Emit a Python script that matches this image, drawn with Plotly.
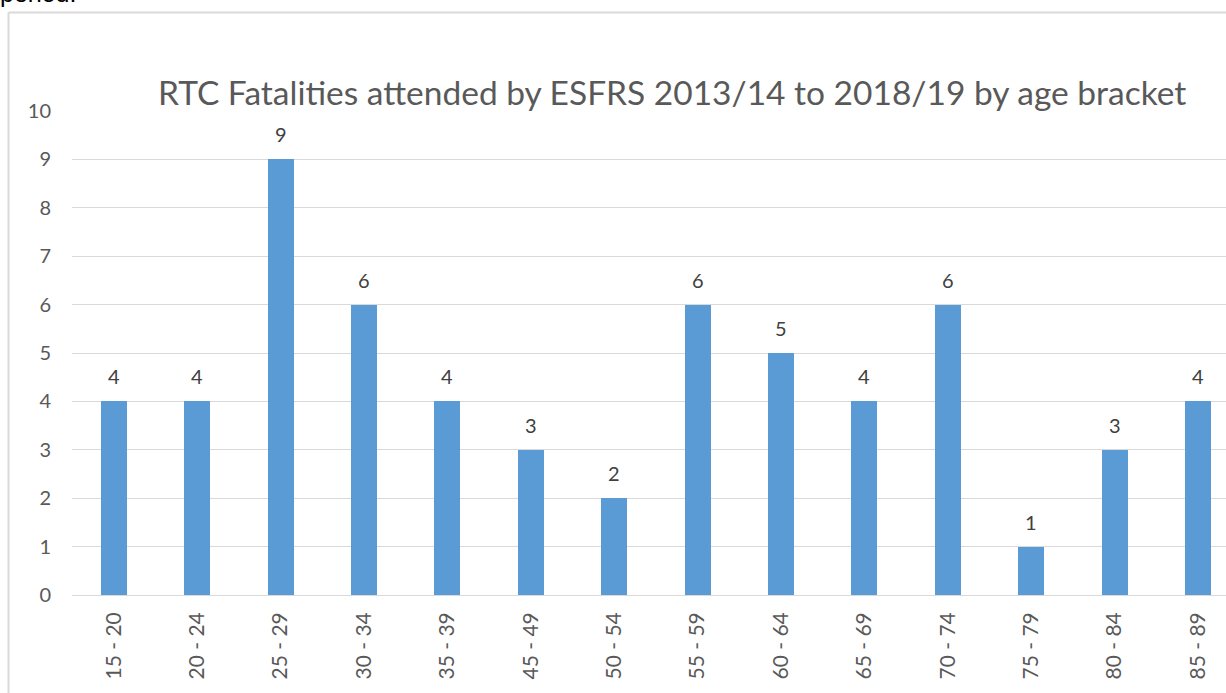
import plotly.graph_objects as go

categories = ["15 - 20", "20 - 24", "25 - 29", "30 - 34", "35 - 39", "45 - 49", "50 - 54",
              "55 - 59", "60 - 64", "65 - 69", "70 - 74", "75 - 79", "80 - 84", "85 - 89"]
fatalities = [4, 4, 9, 6, 4, 3, 2, 6, 5, 4, 6, 1, 3, 4]
y_ticks = list(range(0, 11))

W, H = 1226, 693
L, R, T, B = 72, 0, 111, 98
PW, PH = W - L - R, H - T - B


def px_x(p):
    return (p - L) / PW


def px_y(p):
    return (H - B - p) / PH


band = 83.4
fig = go.Figure()
fig.add_trace(go.Bar(
    x=list(range(len(categories))), y=fatalities,
    marker=dict(color="#5b9bd5", line=dict(width=0)),
    width=26 / band, hoverinfo="x+y",
))

annotations = []
for i, v in enumerate(fatalities):
    annotations.append(dict(x=i, y=v, xref="x", yref="y", text=str(v), showarrow=False,
                            yanchor="middle", yshift=25,
                            font=dict(family="Lato", size=20, color="#404040")))

annotations.append(dict(x=px_x(672), y=px_y(92), xref="paper", yref="paper",
                        text="RTC Fatalities attended by ESFRS 2013/14 to 2018/19 by age bracket",
                        showarrow=False, xanchor="center", yanchor="middle",
                        font=dict(family="Lato", size=33.5, color="#595959")))
annotations.append(dict(x=px_x(-2), y=px_y(-7), xref="paper", yref="paper",
                        text="period.", showarrow=False, xanchor="left", yanchor="middle",
                        font=dict(family="Liberation Sans", size=25, color="#000000")))

shapes = [
    dict(type="line", xref="paper", yref="paper", x0=px_x(8.5), x1=px_x(1300),
         y0=px_y(12.5), y1=px_y(12.5), line=dict(color="#d9d9d9", width=2)),
    dict(type="line", xref="paper", yref="paper", x0=px_x(8.5), x1=px_x(8.5),
         y0=px_y(12.5), y1=px_y(720), line=dict(color="#d9d9d9", width=2)),
]

fig.update_layout(
    width=W, height=H,
    margin=dict(l=L, r=R, t=T, b=B, pad=0),
    paper_bgcolor="white", plot_bgcolor="white",
    showlegend=False, bargap=0,
    annotations=annotations, shapes=shapes,
    xaxis=dict(
        range=[-0.5, -0.5 + PW / band],
        tickmode="array", tickvals=list(range(len(categories))), ticktext=categories,
        tickangle=-90, showgrid=False, zeroline=False, showline=False, ticks="",
        ticklabelstandoff=12,
        tickfont=dict(family="Lato", size=21, color="#595959"),
    ),
    yaxis=dict(
        range=[0, 10], tickmode="array", tickvals=y_ticks,
        showgrid=True, gridcolor="#d9d9d9", gridwidth=1,
        zeroline=True, zerolinecolor="#d9d9d9", zerolinewidth=1,
        showline=False, ticks="", ticklabelstandoff=20,
        tickfont=dict(family="Lato", size=20, color="#595959"),
    ),
)

fig.write_html("out.html")
